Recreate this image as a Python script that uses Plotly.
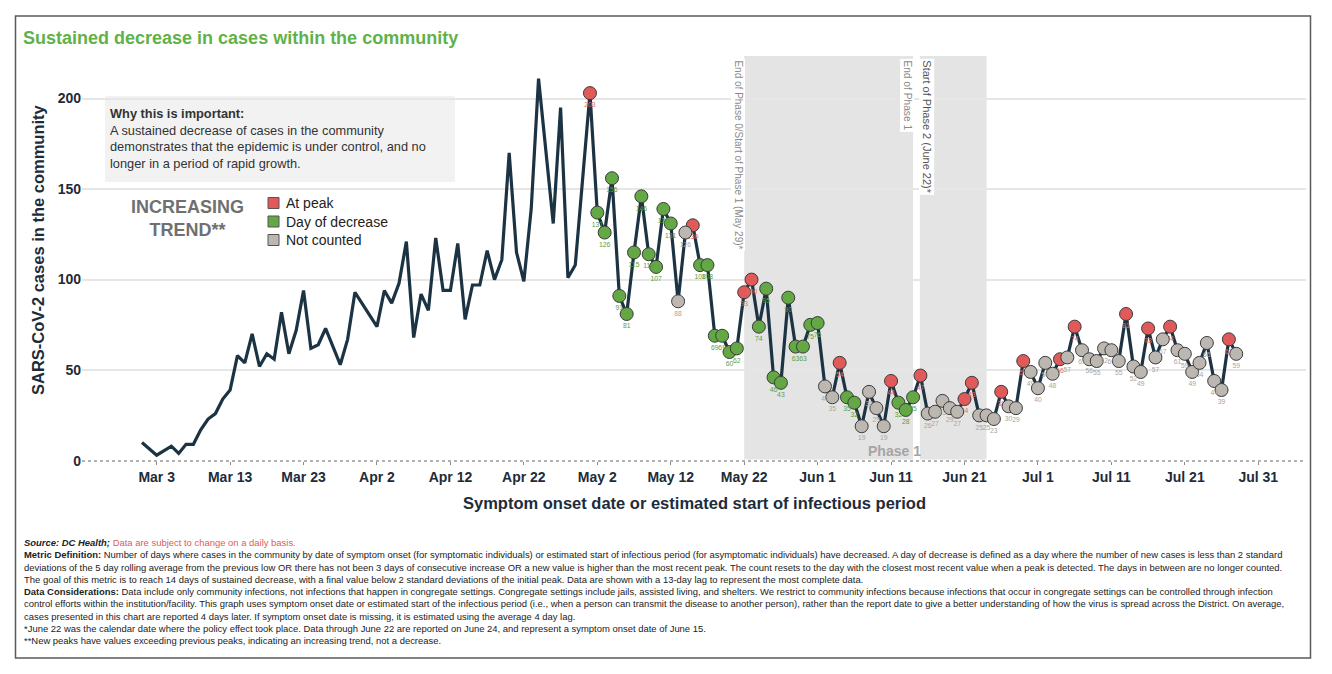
import pandas as pd
import plotly.graph_objects as go

FONT = "Liberation Sans, Arial, sans-serif"

# daily cases before the count starts (line only)
early_dates = [
    "2020-03-01", "2020-03-03", "2020-03-05", "2020-03-06", "2020-03-07", "2020-03-08",
    "2020-03-09", "2020-03-10", "2020-03-11", "2020-03-12", "2020-03-13", "2020-03-14",
    "2020-03-15", "2020-03-16", "2020-03-17", "2020-03-18", "2020-03-19", "2020-03-20",
    "2020-03-21", "2020-03-22", "2020-03-23", "2020-03-24", "2020-03-25", "2020-03-26",
    "2020-03-28", "2020-03-29", "2020-03-30", "2020-04-02", "2020-04-03", "2020-04-04",
    "2020-04-05", "2020-04-06", "2020-04-07", "2020-04-08", "2020-04-09", "2020-04-10",
    "2020-04-11", "2020-04-12", "2020-04-13", "2020-04-14", "2020-04-15", "2020-04-16",
    "2020-04-17", "2020-04-18", "2020-04-19", "2020-04-20", "2020-04-21", "2020-04-22",
    "2020-04-23", "2020-04-24", "2020-04-26", "2020-04-27", "2020-04-28", "2020-04-29",
]
early_cases = [
    10, 3, 8, 4, 9, 9, 17, 23, 26, 34, 39, 58, 54, 70, 52, 59, 56, 82, 59, 72,
    94, 62, 64, 73, 53, 67, 93, 74, 94, 87, 98, 121, 68, 92, 83, 123, 94, 94,
    120, 78, 97, 97, 116, 100, 111, 170, 115, 99, 139, 211, 131, 195, 101, 108,
]

# counted period, one value per day from May 1
count_start = "2020-05-01"
count_cases = [
    # May
    203, 137, 126, 156, 91, 81, 115, 146, 114, 107, 139, 131, 88, 126, 130, 108,
    108, 69, 69, 60, 62, 93, 100, 74, 95, 46, 43, 90, 63, 63, 75,
    # June
    76, 41, 35, 54, 35, 32, 19, 38, 29, 19, 44, 32, 28, 35, 47, 26, 27, 33, 29,
    27, 34, 43, 25, 25, 23, 38, 30, 29, 55, 49,
    # July
    40, 54, 48, 56, 57, 74, 61, 56, 55, 62, 61, 55, 81, 52, 49, 73, 57, 67, 74,
    61, 59, 49, 54, 65, 44, 39, 67, 59,
]
# P = at peak, D = day of decrease, N = not counted
count_status = list(
    "PDDDDDDDDDDDNNPDDDDDDPPDDDDDDDD"
    "DNNPDDNNNNPDDDPNNNNNPPNNNPNNPN"
    "NNNPNPNNNNNNPNNPNNPNNNNNNNPN"
)

status_order = ["P", "D", "N"]
status_names = {"P": "At peak", "D": "Day of decrease", "N": "Not counted"}
status_colors = {"P": "#e05a5a", "D": "#63a845", "N": "#bdb7b1"}
label_colors = {"P": "#e26a6a", "D": "#5c9e3d", "N": "#aaa49e"}

tick_dates = ["2020-03-03", "2020-03-13", "2020-03-23", "2020-04-02", "2020-04-12",
              "2020-04-22", "2020-05-02", "2020-05-12", "2020-05-22", "2020-06-01",
              "2020-06-11", "2020-06-21", "2020-07-01", "2020-07-11", "2020-07-21",
              "2020-07-31"]
tick_labels = ["Mar 3", "Mar 13", "Mar 23", "Apr 2", "Apr 12", "Apr 22", "May 2",
               "May 12", "May 22", "Jun 1", "Jun 11", "Jun 21", "Jul 1", "Jul 11",
               "Jul 21", "Jul 31"]
y_ticks = [0, 50, 100, 150, 200]

# shaded phase periods and their vertical labels
phase_spans = [("2020-05-22", "2020-06-14"), ("2020-06-14 22:00", "2020-06-24")]
phase_marks = [
    ("2020-05-21 04:00", "End of Phase 0/Start of Phase 1 (May 29)*", "#8a8a8a", 10),
    ("2020-06-13 06:00", "End of Phase 1", "#8a8a8a", 10.2),
    ("2020-06-15 22:00", "Start of Phase 2 (June 22)*", "#555555", 11),
]

count_dates = pd.date_range(count_start, periods=len(count_cases), freq="D")
all_dates = list(pd.to_datetime(early_dates)) + list(count_dates)
all_cases = early_cases + count_cases

# plot area in pixels, used to place the loose text
PLOT_L, PLOT_R, PLOT_T, PLOT_B = 82, 1306, 56, 461


def px(x):
    return (x - PLOT_L) / (PLOT_R - PLOT_L)


def py(y):
    return (PLOT_B - y) / (PLOT_B - PLOT_T)


fig = go.Figure()

fig.add_trace(go.Scatter(
    x=all_dates, y=all_cases, mode="lines",
    line=dict(color="#1b3342", width=3.2),
    hoverinfo="skip",
))

for s in status_order:
    xs = [d for d, st in zip(count_dates, count_status) if st == s]
    ys = [v for v, st in zip(count_cases, count_status) if st == s]
    fig.add_trace(go.Scatter(
        x=xs, y=ys, mode="markers+text", name=status_names[s],
        marker=dict(size=13, color=status_colors[s], line=dict(color="#3b3b3b", width=1)),
        text=[str(v) for v in ys], textposition="bottom center",
        textfont=dict(size=6.8, color=label_colors[s], family=FONT),
    ))

shapes = []
for x0, x1 in phase_spans:
    shapes.append(dict(type="rect", xref="x", yref="paper", x0=x0, x1=x1, y0=0, y1=1,
                       fillcolor="#e4e4e4", line_width=0, layer="below"))

# hide the grid line at zero and draw the dotted baseline
shapes.append(dict(type="line", xref="paper", yref="paper", x0=0, x1=1, y0=0, y1=0,
                   line=dict(color="white", width=3), layer="between"))
shapes.append(dict(type="line", xref="paper", yref="paper", x0=0, x1=1, y0=0, y1=0,
                   line=dict(color="#9a9a9a", width=1.3, dash="dot"), layer="between"))

# info box
shapes.append(dict(type="rect", xref="paper", yref="paper",
                   x0=px(105), x1=px(455), y0=py(182), y1=py(96),
                   fillcolor="#f2f2f2", line_width=0, layer="below"))

# legend squares
for i, s in enumerate(status_order):
    yc = 203 + i * 18.5
    shapes.append(dict(type="rect", xref="paper", yref="paper",
                       x0=px(268), x1=px(279), y0=py(yc + 5.5), y1=py(yc - 5.5),
                       fillcolor=status_colors[s], line=dict(color="#555555", width=1)))

# outer border
shapes.append(dict(type="rect", xref="paper", yref="paper",
                   x0=px(15.5), x1=px(1310.5), y0=py(658), y1=py(16),
                   line=dict(color="#5a5a5a", width=1.5)))

annotations = [
    dict(x=px(21), y=py(38), xanchor="left", yanchor="middle",
         text="<b>Sustained decrease in cases within the community</b>",
         font=dict(size=18, color="#5fb24a")),
    dict(x=px(38), y=py(250), textangle=-90, xanchor="center", yanchor="middle",
         text="<b>SARS-CoV-2 cases in the community</b>",
         font=dict(size=16.5, color="#1d2c3a")),
    dict(x=0.5, y=py(503), xanchor="center", yanchor="middle",
         text="<b>Symptom onset date or estimated start of infectious period</b>",
         font=dict(size=16.5, color="#1d2c3a")),
    dict(x=px(108), y=py(104), xanchor="left", yanchor="top", align="left",
         text="<b>Why this is important:</b><br>A sustained decrease of cases in the community"
              "<br>demonstrates that the epidemic is under control, and no"
              "<br>longer in a period of rapid growth.",
         font=dict(size=12.8, color="#333333")),
    dict(x=px(187), y=py(218), xanchor="center", yanchor="middle", align="center",
         text="<b>INCREASING<br>TREND**</b>",
         font=dict(size=18, color="#707070")),
]
for i, s in enumerate(status_order):
    annotations.append(dict(x=px(284), y=py(203 + i * 18.5), xanchor="left", yanchor="middle",
                            text=status_names[s], font=dict(size=14, color="#222222")))

for x, label, color, size in phase_marks:
    annotations.append(dict(x=x, xref="x", y=py(58), textangle=90,
                            xanchor="center", yanchor="top", text=label,
                            bgcolor="white", borderpad=1,
                            font=dict(size=size, color=color)))

annotations.append(dict(x="2020-06-11 10:00", xref="x", y=py(451), xanchor="center",
                        yanchor="middle", text="<b>Phase 1</b>",
                        font=dict(size=14, color="#a5a5a5")))

footnote = (
    "<b><i>Source: DC Health;</i></b> <span style='color:#e05a5a'>Data are subject to change on a daily basis.</span><br>"
    "<b>Metric Definition:</b> Number of days where cases in the community by date of symptom onset (for symptomatic individuals) "
    "or estimated start of infectious period (for asymptomatic individuals) have decreased. A day of decrease is defined as a day "
    "where the number of new cases is less than 2 standard<br>"
    "deviations of the 5 day rolling average from the previous low OR there has not been 3 days of consecutive increase OR a new "
    "value is higher than the most recent peak. The count resets to the day with the closest most recent value when a peak is "
    "detected. The days in between are no longer counted.<br>"
    "The goal of this metric is to reach 14 days of sustained decrease, with a final value below 2 standard deviations of the "
    "initial peak. Data are shown with a 13-day lag to represent the most complete data.<br>"
    "<b>Data Considerations:</b> Data include only community infections, not infections that happen in congregate settings. "
    "Congregate settings include jails, assisted living, and shelters. We restrict to community infections because infections "
    "that occur in congregate settings can be controlled through infection<br>"
    "control efforts within the institution/facility. This graph uses symptom onset date or estimated start of the infectious "
    "period (i.e., when a person can transmit the disease to another person), rather than the report date to give a better "
    "understanding of how the virus is spread across the District. On average,<br>"
    "cases presented in this chart are reported 4 days later. If symptom onset date is missing, it is estimated using the "
    "average 4 day lag.<br>"
    "*June 22 was the calendar date where the policy effect took place. Data through June 22 are reported on June 24, and "
    "represent a symptom onset date of June 15.<br>"
    "**New peaks have values exceeding previous peaks, indicating an increasing trend, not a decrease."
)
annotations.append(dict(x=px(22), y=py(535), xanchor="left", yanchor="top", align="left",
                        text=footnote, font=dict(size=9.45, color="#222222")))

for a in annotations:
    a.setdefault("xref", "paper")
    a.setdefault("yref", "paper")
    a.setdefault("showarrow", False)

fig.update_layout(
    width=1332, height=674,
    margin=dict(l=PLOT_L, r=1332 - PLOT_R, t=PLOT_T, b=674 - PLOT_B, autoexpand=False),
    paper_bgcolor="white", plot_bgcolor="white",
    font=dict(family=FONT, color="#222222"),
    showlegend=False, hovermode=False,
    shapes=shapes, annotations=annotations,
)

fig.update_xaxes(
    type="date", range=["2020-02-21 20:00", "2020-08-06 12:00"],
    tickvals=tick_dates, ticktext=tick_labels,
    ticks="outside", ticklen=3, tickcolor="#8a8a8a",
    tickfont=dict(size=14, color="#1d2c3a", weight="bold"),
    showgrid=False, zeroline=False, showline=False,
)
fig.update_yaxes(
    range=[-0.2, 223.5], tickvals=y_ticks,
    tickfont=dict(size=14, color="#1d2c3a", weight="bold"),
    showgrid=True, gridcolor="#e6e6e6", gridwidth=1.5,
    zeroline=False, showline=False, ticks="",
)

# the page body has a default margin; drop it so the figure sits at the top-left corner
fig.write_html("out.html", config={"displayModeBar": False},
               post_script="document.body.style.margin = '0';")
